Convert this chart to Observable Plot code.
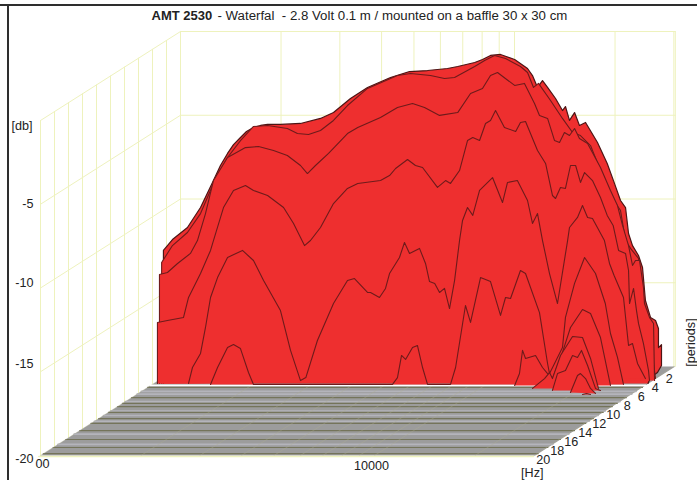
<!DOCTYPE html>
<html>
<head>
<meta charset="utf-8">
<script src="https://cdn.jsdelivr.net/npm/d3@7"></script>
<script src="https://cdn.jsdelivr.net/npm/@observablehq/plot@0.6"></script>
<style>
html,body{margin:0;padding:0;background:#fff}
#chart{position:relative;width:697px;height:480px;overflow:hidden}
#chart svg{display:block}
.rule{position:absolute;background:#2e2e2e}
</style>
</head>
<body>
<div id="chart"><div class="rule" style="left:0;top:4px;width:697px;height:2px"></div><div class="rule" style="left:7px;top:4px;width:2px;height:476px"></div></div>
<script>
// Values are read against the back wall of the 3D box (log Hz, dB); each array pair is one decay slice.
const slice1Hz=[889,889,946,1049,1148,1255,1317,1383,1441,1512,1576,1654,1736,1823,1992,2287,2625,2871,3228,3630,4254,4850,5490,6300,6760,7600,8020,8476,9081,10010,10940,11320,11720,12130,12560,13270,13920,14210,14610,15130,15650,16320,17720,18950,19870,20770,21500,21950,22560,23510,24170,24660,25540,26440,26980,26980,27550,27550,26800,25540,25100];
const slice1Db=[-21.01,-13.07,-12.42,-11.7,-10.51,-8.9,-8,-7.28,-6.75,-6.33,-5.97,-5.73,-5.61,-5.55,-5.55,-5.49,-5.19,-4.84,-4,-3.34,-2.75,-2.39,-2.33,-2.21,-2.09,-1.85,-1.67,-1.43,-1.37,-1.67,-2.21,-2.63,-3.34,-2.93,-3.34,-4,-4.72,-4.48,-5.31,-4.84,-5.61,-5.43,-6.63,-7.88,-9.01,-10.09,-10.51,-12.06,-12.78,-13.37,-14.09,-16.06,-17.07,-17.25,-17.73,-18.87,-18.69,-19.94,-20.36,-20.66,-21.01];
const slice2Hz=[878,878,946,1049,1148,1255,1383,1512,1654,1823,2089,2239,2417,2625,2871,3162,3630,4463,4883,5605,6172,6615,7600,8140,8715,9400,10420,10940,11400,11800,12820,13920,14920,15760,16890,18090,19380,20770,21500,22250,23510,24170,24660,25540,26440];
const slice2Db=[-21.01,-13.79,-12.78,-12,-10.87,-9.07,-7.52,-6.51,-5.67,-5.61,-5.79,-6.09,-6.15,-5.91,-5.31,-4.42,-3.4,-2.63,-2.51,-2.63,-2.81,-2.75,-2.09,-1.73,-1.43,-1.61,-2.09,-2.45,-3.34,-3.1,-4.12,-5.19,-6.03,-6.21,-6.81,-8.3,-9.79,-10.69,-12.48,-12.95,-13.55,-15.46,-16.66,-18.45,-20.72];
const slice3Hz=[865,865,914,980,1071,1124,1188,1255,1383,1565,1713,1899,2089,2287,2399,2536,2775,3162,3394,3970,4463,4951,5378,5964,6760,7385,8020,8476,8895,10010,10710,11480,11880,12560,13180,13640,14110,14610,15130,15650,16550,18090,19380,20340,21060,21950,22560,23030,23680,24330,24500,25360,26080,26260];
const slice3Db=[-21.01,-14.51,-14.39,-13.85,-13.25,-12.48,-10.87,-8.9,-7.52,-6.93,-6.87,-7.1,-7.4,-8,-8.48,-8,-7.28,-6.09,-5.73,-5.13,-4.54,-4.3,-4.54,-5.01,-4.84,-3.7,-3.4,-2.63,-2.45,-3.22,-3.1,-4.3,-5.01,-5.19,-6.51,-6.63,-6.03,-6.21,-5.79,-6.39,-6.69,-8.12,-9.49,-10.39,-11.58,-12.78,-13.97,-13.67,-13.67,-15.28,-16.24,-17.07,-17.43,-20.84];
const slice4Hz=[853,853,914,1021,1057,1148,1230,1255,1345,1441,1565,1654,1823,2035,2180,2351,2450,2625,2871,3162,3394,3970,4225,4405,4783,5053,5305,5880,6219,6433,6846,7233,7500,7860,8190,8476,8775,9330,10080,10420,10790,11720,12390,12990,13270,13730,14210,14710,15240,15760,16210,17120,18090,18950,19740,20490,21500,21950,22100,22720,23190,23510,24330,25190,25360];
const slice4Db=[-21.01,-17.37,-17.25,-17.07,-15.88,-14.45,-13.07,-12.48,-10.51,-9.49,-9.19,-9.49,-9.79,-10.51,-11.46,-12.78,-12.48,-11.7,-10.27,-9.37,-9.07,-8.9,-8.6,-8.18,-7.64,-8,-8.12,-9.31,-8.9,-9.07,-8.3,-6.51,-6.33,-6.51,-5.49,-5.31,-4.72,-5.73,-5.97,-5.43,-5.37,-7.1,-7.88,-9.79,-9.97,-9.31,-9.37,-8,-8,-9.01,-8.42,-8.9,-9.91,-10.98,-11.58,-13.07,-13.25,-14.27,-16.24,-15.34,-16.66,-17.43,-18.63,-20.24,-20.84];
const slice5Hz=[1057,1086,1148,1188,1230,1291,1383,1533,1654,1773,1992,2135,2287,2373,2570,2871,3162,3318,3630,3706,3942,4110,4225,4525,4684,4850,5195,5415,5566,5770,5964,6172,6389,6615,6846,6990,7233,7500,7860,8595,9206,9530,10200,10940,11320,11720,12130,12730,13450,14420,14610,15440,15980,16550,17120,18590,19250,19870,21200,21950,22560,23350,24660];
const slice5Db=[-21.01,-20.06,-19.22,-17.67,-15.88,-14.69,-13.49,-13.07,-13.67,-14.87,-16.66,-19.04,-20.84,-20.66,-18.45,-16.24,-14.87,-14.75,-15.58,-15.58,-15.88,-15.34,-14.45,-13.49,-12.6,-13.25,-12.95,-13.85,-14.93,-15.04,-15.58,-15.34,-16.54,-14.87,-12.48,-11.28,-10.51,-10.98,-9.49,-8.72,-10.21,-9.01,-8.9,-10.09,-11.46,-10.87,-12.48,-14.45,-16.24,-12.48,-11.7,-11.1,-10.39,-11.1,-11.16,-12.48,-13.85,-14.57,-15.88,-18.75,-18.63,-19.82,-20.72];
const slice6Hz=[1230,1291,1383,1441,1512,1598,1654,4313,4463,4590,4720,4951,5123,5305,5490,6433,6662,7132,7385,7912,8476,9081,9400,9730,10420,10790,11880,12560,12730,13090,13920,14210,15130,16210,17480,18700,19380,20340,21200];
const slice6Db=[-21.07,-20.06,-18.87,-18.69,-18.93,-20.36,-21.07,-21.07,-20.66,-19.34,-19.58,-18.87,-18.75,-20.06,-21.07,-21.07,-20.06,-16.36,-17.37,-14.69,-14.93,-16.95,-15.88,-15.94,-14.27,-14.45,-16.78,-19.82,-20.42,-19.94,-18.87,-17.07,-15.04,-13.49,-14.45,-16.24,-18.03,-19.46,-21.07];
const slice7Hz=[10010,10350,10570,10790,11560,12130,12560,12990,13920,14710,15980,16890,18090,19380];
const slice7Db=[-21.13,-20.42,-19.04,-19.52,-19.34,-20.06,-20.42,-20.72,-19.16,-17.67,-16.6,-16.84,-18.27,-21.13];
const slice8Hz=[11320,12300,12730,12990,13730,14920,15980,16890,17840];
const slice8Db=[-21.31,-20.72,-20.36,-20.72,-19.34,-18.21,-18.27,-19.52,-21.31];
const slice9Hz=[12990,13450,14210,14920,15440,15870,16550,17480,18090];
const slice9Db=[-21.43,-20.42,-20.24,-19.34,-19.46,-19.04,-19.94,-21.31,-21.43];
const slice10Hz=[14710,15440,15760,16320,16890,17480];
const slice10Db=[-21.55,-20.54,-20.42,-20.72,-21.31,-21.61];
const slice11Hz=[15980,16430,16890];
const slice11Db=[-21.67,-21.61,-21.67];

const gridHz=[1000,2000,3000,4000,5000,6000,7000,8000,9000,10000,20000,30000];
const gridDb=[0,-5,-10,-15];
const periods=[0,2,4,6,8,10,12,14,16,18,20];
const periodLabels=[2,4,6,8,10,12,14,16,18,20];
const floorDark=[7,8.3,9,10.3,11.7,12.8,14.4,16.4,18.2,19.6,4.7];
const floorLight=[5.6,6.2,7.9,10,11,12.3,15.2,17.5];
const yTicks=[-5,-10,-15,-20];
const yTickShift=[0,-5,-8,3];

const hzMin=1000,hzMax=30300,dbFloor=-20,dbTop=0,periodMax=20;
const red="#ee2f2f",contour="#6e1b1b",gridColor="#eef2bd";

// Oblique projection of the 3D box: a period moves a point along log Hz and dB.
const proj=(hz,db,p)=>({hz:hz*Math.pow(10,-p*7/334),db:db-p*4.45/16.75});
const rows=(hz,db)=>hz.map((h,i)=>({hz:h,db:db[i]}));
const seg=(a,b,k)=>[{...a,k},{...b,k}];

const wallLines=[
  ...gridHz.flatMap(h=>seg(proj(h,dbFloor,0),proj(h,dbTop,0),"b"+h)),
  ...gridDb.flatMap(d=>seg(proj(hzMin,d,0),proj(hzMax,d,0),"h"+d)),
  ...seg(proj(hzMax,dbFloor,0),proj(hzMax,dbTop,0),"r"),
  ...periods.flatMap(p=>seg(proj(hzMin,dbFloor,p),proj(hzMin,dbTop,p),"l"+p)),
  ...gridDb.flatMap(d=>seg(proj(hzMin,d,0),proj(hzMin,d,periodMax),"d"+d))
];
const floorPoly=[proj(hzMin,dbFloor,0),proj(hzMax,dbFloor,0),proj(hzMax,dbFloor,periodMax),proj(hzMin,dbFloor,periodMax)];
const stripe=list=>list.flatMap(p=>seg(proj(hzMin,dbFloor,p),proj(hzMax,dbFloor,p),p));
const floorFaint=gridHz.flatMap(h=>seg(proj(h,dbFloor,0),proj(h,dbFloor,periodMax),h));

const slices=[[slice1Hz,slice1Db],[slice2Hz,slice2Db],[slice3Hz,slice3Db],[slice4Hz,slice4Db],[slice5Hz,slice5Db],[slice6Hz,slice6Db],[slice7Hz,slice7Db],[slice8Hz,slice8Db],[slice9Hz,slice9Db],[slice10Hz,slice10Db],[slice11Hz,slice11Db]].map(([h,d])=>rows(h,d));

const font={fontFamily:"'Liberation Sans',Arial,sans-serif",fill:"#222"};
const tickFont={...font,fontSize:12.6};

const marks=[
  Plot.line(wallLines,{x:"hz",y:"db",z:"k",stroke:gridColor,strokeWidth:1}),
  Plot.line(floorPoly,{x:"hz",y:"db",fill:"#9c9c9c",stroke:"none"}),
  Plot.line(stripe(floorLight),{x:"hz",y:"db",z:"k",stroke:"#b4b4bb",strokeWidth:1.6}),
  Plot.line(stripe(floorDark),{x:"hz",y:"db",z:"k",stroke:"#74745a",strokeWidth:1.2}),
  Plot.line(floorFaint,{x:"hz",y:"db",z:"k",stroke:"#b0b090",strokeOpacity:0.35,strokeWidth:1}),
  Plot.line(stripe([20.25]),{x:"hz",y:"db",z:"k",stroke:gridColor,strokeWidth:1.5}),
  Plot.line(stripe([4.25]),{x:"hz",y:"db",z:"k",stroke:"#ffffff",strokeWidth:1.8})
];
slices.forEach((s,i)=>{
  marks.push(Plot.line(s,{x:"hz",y:"db",fill:red,stroke:"none"}));
  marks.push(Plot.line(s,{x:"hz",y:"db",stroke:i===0?"#4d1515":contour,strokeWidth:i===0?1.2:1.1,strokeLinejoin:"round"}));
});
yTicks.forEach((t,i)=>marks.push(Plot.text([proj(hzMin,t,periodMax)],{x:"hz",y:"db",text:()=>String(t),textAnchor:"end",dx:-7,dy:yTickShift[i],...tickFont})));
marks.push(Plot.text([proj(hzMin,dbTop,periodMax)],{x:"hz",y:"db",text:()=>"[db]",textAnchor:"end",dx:-8,dy:5,...tickFont}));
marks.push(Plot.text([proj(hzMin,dbFloor,periodMax)],{x:"hz",y:"db",text:()=>"00",dx:2,dy:8,...tickFont}));
marks.push(Plot.text([proj(10000,dbFloor,periodMax)],{x:"hz",y:"db",text:()=>"10000",dx:-3,dy:10,...tickFont}));
marks.push(Plot.text([proj(hzMax,dbFloor,periodMax)],{x:"hz",y:"db",text:()=>"[Hz]",dx:-3,dy:17,...tickFont}));
marks.push(Plot.text(periodLabels.map(p=>({...proj(hzMax,dbFloor,p),p})),{x:"hz",y:"db",text:d=>String(d.p),dx:8,dy:4,...tickFont}));
marks.push(Plot.text([proj(hzMax,dbFloor,0)],{x:"hz",y:"db",text:()=>"[periods]",rotate:-90,dx:16,dy:-24,...tickFont}));
marks.push(Plot.text(["AMT 2530"],{frameAnchor:"top-left",dx:151,dy:10,text:d=>d,fontWeight:"bold",fontSize:13,...font}));
marks.push(Plot.text(["- Waterfal  - 2.8 Volt 0.1 m / mounted on a baffle 30 x 30 cm"],{frameAnchor:"top-left",dx:217,dy:10,text:d=>d,fontSize:13.25,...font,style:"white-space:pre"}));

const W=697,H=480;
const plot=Plot.plot({
  width:W,height:H,margin:0,
  style:{background:"transparent",overflow:"visible"},
  x:{type:"log",domain:[1000*Math.pow(10,-180/334),1000*Math.pow(10,(W-180)/334)],range:[0,W],axis:null},
  y:{type:"linear",domain:[-(H-31)/16.75,31/16.75],range:[H,0],axis:null},
  marks
});
document.getElementById("chart").prepend(plot);
</script>
</body>
</html>
